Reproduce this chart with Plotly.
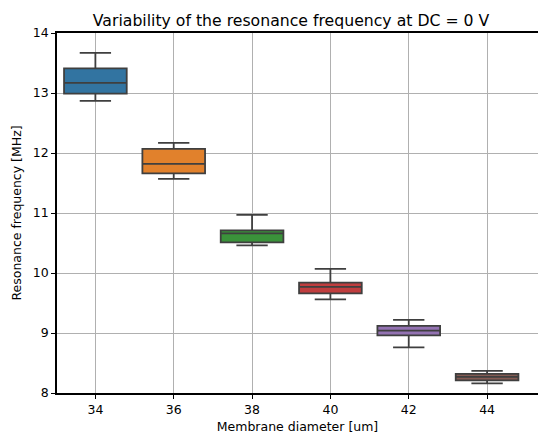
import plotly.graph_objects as go

diameters = ["34", "36", "38", "40", "42", "44"]
upper_whisker = [13.67, 12.17, 10.97, 10.07, 9.22, 8.37]
q3 = [13.41, 12.07, 10.71, 9.84, 9.12, 8.32]
median = [13.17, 11.82, 10.66, 9.77, 9.04, 8.27]
q1 = [12.99, 11.66, 10.51, 9.66, 8.96, 8.21]
lower_whisker = [12.87, 11.57, 10.46, 9.56, 8.76, 8.16]
colors = ["#3274a1", "#e1812c", "#3a923a", "#c03d3e", "#9372b2", "#845b53"]

fig = go.Figure()
for i, d in enumerate(diameters):
    fig.add_trace(go.Box(
        x=[i], q1=[q1[i]], median=[median[i]], q3=[q3[i]],
        lowerfence=[lower_whisker[i]], upperfence=[upper_whisker[i]],
        fillcolor=colors[i], line=dict(color="#3f3f3f", width=1.8),
        width=0.8, whiskerwidth=0.5, boxpoints=False, showlegend=False,
        hoverinfo="skip",
    ))

font = "DejaVu Sans"
fig.update_layout(
    width=538, height=434,
    margin=dict(l=57, r=0, t=33, b=41),
    paper_bgcolor="white", plot_bgcolor="white",
    font=dict(family=font, size=12.5, color="black"),
    title=dict(text="Variability of the resonance frequency at DC = 0 V",
               x=0.541, xanchor="center", y=0.953, yanchor="middle",
               font=dict(size=15.7, family=font, color="black")),
    xaxis=dict(
        range=[-0.49, 5.65], tickmode="array",
        tickvals=list(range(len(diameters))), ticktext=diameters,
        showgrid=True, gridcolor="#b0b0b0", gridwidth=1,
        showline=True, linecolor="black", linewidth=1.5, mirror=True,
        ticks="outside", ticklen=4, tickcolor="black", tickwidth=1,
        zeroline=False, automargin=False,
        title=dict(text="Membrane diameter [um]", standoff=6,
                   font=dict(size=12.5, family=font)),
    ),
    yaxis=dict(
        range=[8, 14], tickmode="linear", tick0=8, dtick=1,
        showgrid=True, gridcolor="#b0b0b0", gridwidth=1,
        showline=True, linecolor="black", linewidth=1.5,
        ticks="outside", ticklen=4, tickcolor="black", tickwidth=1,
        zeroline=False, automargin=False,
        title=dict(text="Resonance frequency [MHz]", standoff=8,
                   font=dict(size=12.5, family=font)),
    ),
)
fig.write_html(
    "out.html",
    config={"displayModeBar": False},
    post_script="document.body.style.margin='0';document.body.style.overflow='hidden';",
)
